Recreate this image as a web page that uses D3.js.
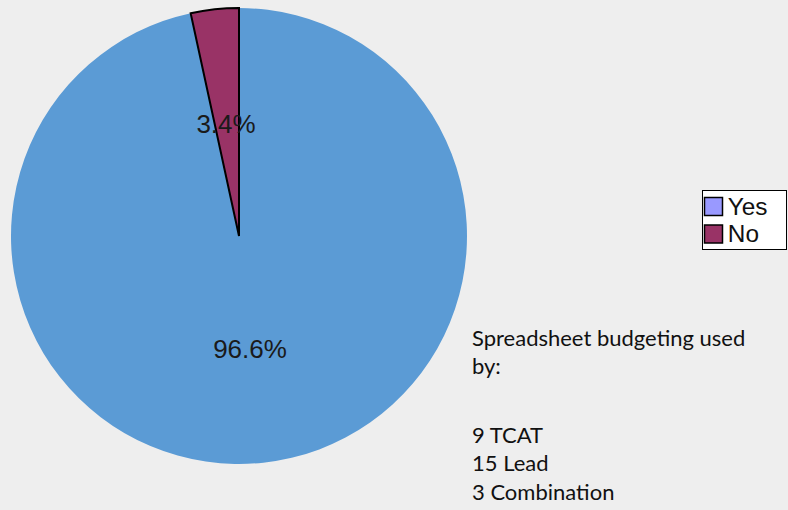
<!DOCTYPE html>
<html>
<head>
<meta charset="utf-8">
<script src="https://cdn.jsdelivr.net/npm/d3@7"></script>
<style>
  html, body { margin: 0; padding: 0; background: #eeeeee; }
  svg { display: block; }
</style>
</head>
<body>
<svg id="chart" width="788" height="510"></svg>
<script>
// Survey answers: share of respondents
const categories = ["Yes", "No"];
const values = [96.6, 3.4];
const sliceColors = ["#5b9bd5", "#993366"];
const legendColors = ["#9999ff", "#993366"];
const noteLines = ["Spreadsheet budgeting used", "by:", "", "9 TCAT", "15 Lead", "3 Combination"];

const svg = d3.select("#chart");
const W = 788, H = 510;
svg.append("rect").attr("width", W).attr("height", H).attr("fill", "#eeeeee");

const cx = 239, cy = 236, r = 228;
const data = categories.map((c, i) => ({ cat: c, value: values[i], color: sliceColors[i], legend: legendColors[i] }));

// Large slice starts at 12 o'clock and sweeps clockwise; the small one closes the circle
const pie = d3.pie().sort(null).value(d => d.value)
  .startAngle(0).endAngle(2 * Math.PI);
const arcs = pie(data);
const arc = d3.arc().innerRadius(0).outerRadius(r);

const g = svg.append("g").attr("transform", `translate(${cx},${cy})`);
g.selectAll("path.slice")
  .data(arcs)
  .join("path")
  .attr("class", "slice")
  .attr("d", arc)
  .attr("fill", d => d.data.color)
  .attr("stroke", d => d.data.cat === "No" ? "#000" : "none")
  .attr("stroke-width", 2)
  .attr("stroke-linejoin", "miter");

// Percent labels
const labelPos = { "Yes": [11, 122], "No": [-13, -103] };
g.selectAll("text.pct")
  .data(arcs)
  .join("text")
  .attr("class", "pct")
  .attr("x", d => labelPos[d.data.cat][0])
  .attr("y", d => labelPos[d.data.cat][1])
  .attr("text-anchor", "middle")
  .attr("font-family", "Liberation Sans, Arial, sans-serif")
  .attr("font-size", 26)
  .attr("fill", "#1a1a1a")
  .text(d => d.data.value.toFixed(1) + "%");

// Legend
const lg = svg.append("g").attr("transform", "translate(702.5,190.5)");
lg.append("rect").attr("width", 84).attr("height", 59)
  .attr("fill", "#ffffff").attr("stroke", "#000").attr("stroke-width", 1);
const items = lg.selectAll("g.item").data(data).join("g")
  .attr("class", "item")
  .attr("transform", (d, i) => `translate(2,${7 + i * 27.5})`);
items.append("rect").attr("width", 18).attr("height", 18)
  .attr("fill", d => d.legend).attr("stroke", "#000").attr("stroke-width", 1.5);
items.append("text").attr("x", 22).attr("y", 17)
  .attr("font-family", "Liberation Sans, Arial, sans-serif")
  .attr("font-size", 23).attr("fill", "#111")
  .attr("transform", "scale(1.06,1)")
  .text(d => d.cat);

// Note text; the blank line is a little taller than a text line
const note = svg.append("text")
  .attr("font-family", "Lato, 'Open Sans', sans-serif")
  .attr("font-size", 22).attr("fill", "#111");
noteLines.forEach((t, i) => {
  note.append("tspan").attr("x", 472)
    .attr("y", 346 + i * 28.4 + (i >= 3 ? 11.8 : 0))
    .text(t);
});
</script>
</body>
</html>
